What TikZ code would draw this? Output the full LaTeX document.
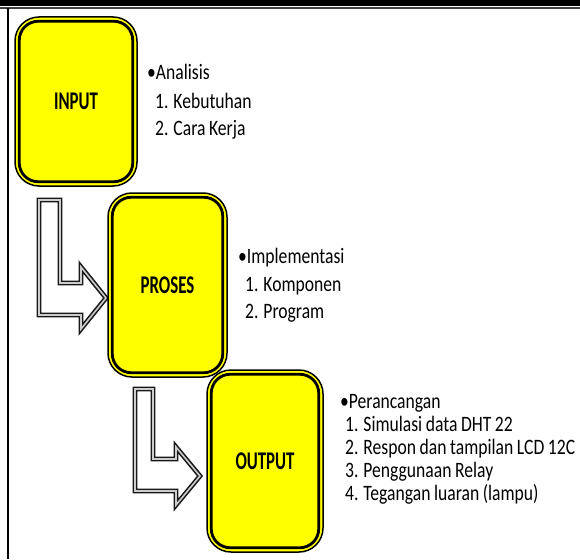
\documentclass[tikz,border=0pt]{standalone}
\usepackage{fontspec}
\setmainfont{Carlito}
\newfontfamily\regfont[FakeStretch=0.8,WordSpace=0.9]{Carlito}
\newfontfamily\boldfont[FakeStretch=0.66]{Carlito}
\usetikzlibrary{calc}
\definecolor{boxyellow}{RGB}{255,255,0}
\tikzset{
  boxouter/.style={draw=black, line width=1.5pt, fill=boxyellow, rounded corners=24pt,
    inner sep=0pt, font=\boldfont\bfseries\fontsize{25.5}{28}\selectfont},
  boxinner/.style={draw=black, line width=2.8pt, rounded corners=19pt},
  blockarrow/.style={draw=black!90, line width=1.6pt, double=gray!40, double distance=1.6pt,
    fill=white, line join=miter},
  txt/.style={anchor=base west, inner sep=0pt, font=\regfont\fontsize{22}{24}\selectfont},
}
\begin{document}
\begin{tikzpicture}[x=1pt,y=-1pt]
\useasboundingbox (0,0) rectangle (580,559);
% frame
\fill[black] (0,0) rectangle (580,5.7);
\draw[black!75, line width=2.5pt] (0,8) -- (580,8);
\draw[black, line width=2pt] (8,8) -- (8,559);

% block arrows
\draw[blockarrow] (39,200) -- (60,200) -- (60,283) -- (81,283) -- (81,267) -- (106,298)
  -- (81,329) -- (81,315) -- (39,315) -- cycle;
\draw[blockarrow] (135,389) -- (153,389) -- (153,459) -- (176,459) -- (176,447) -- (200,476)
  -- (176,505) -- (176,491) -- (135,491) -- cycle;

% boxes
\node[boxouter, minimum width=122pt, minimum height=169pt] (in) at (76,101.5) {INPUT};
\draw[boxinner] ($(in.north west)+(5,5)$) rectangle ($(in.south east)+(-5,-5)$);
\node[boxouter, minimum width=119pt, minimum height=184pt] (pr) at (167.5,285) {PROSES};
\draw[boxinner] ($(pr.north west)+(5,5)$) rectangle ($(pr.south east)+(-5,-5)$);
\node[boxouter, minimum width=116pt, minimum height=182pt] (out) at (265,461) {OUTPUT};
\draw[boxinner] ($(out.north west)+(5,5)$) rectangle ($(out.south east)+(-5,-5)$);

% texts
\node[txt] (a0) at (147,80) {•Analisis};
\node[txt] (a1) at (155,108) {1. Kebutuhan};
\node[txt] (a2) at (155,135) {2. Cara Kerja};

\node[txt] (b0) at (238,263) {•Implementasi};
\node[txt] (b1) at (245,291) {1. Komponen};
\node[txt] (b2) at (245,318) {2. Program};

\node[txt] (c0) at (340,408) {•Perancangan};
\node[txt] (c1) at (345,431) {1. Simulasi data DHT 22};
\node[txt] (c2) at (345,454) {2. Respon dan tampilan LCD 12C};
\node[txt] (c3) at (345,477) {3. Penggunaan Relay};
\node[txt] (c4) at (345,500) {4. Tegangan luaran (lampu)};
\end{tikzpicture}
\end{document}
